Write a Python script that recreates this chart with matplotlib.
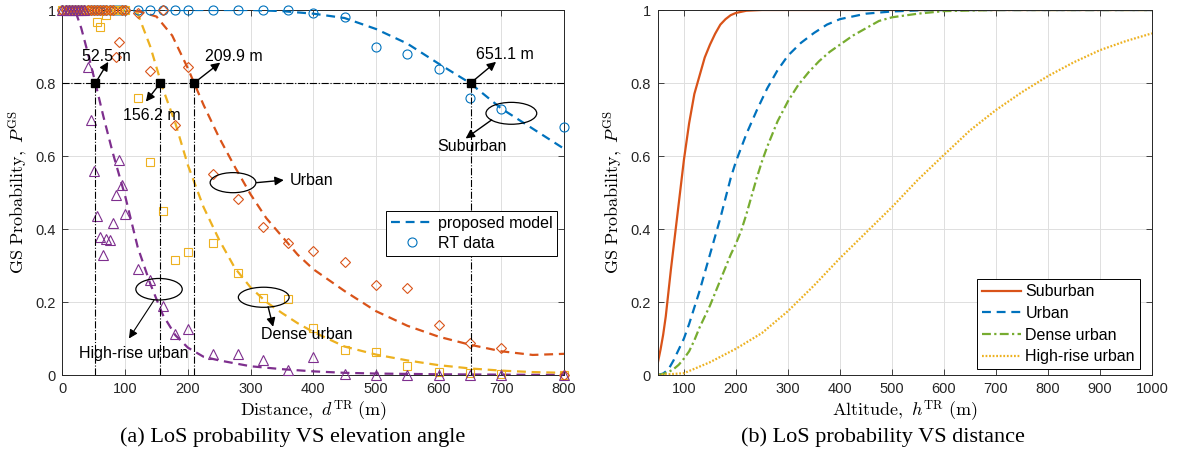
import matplotlib
matplotlib.use("Agg")
import matplotlib.pyplot as plt
from matplotlib.lines import Line2D
from matplotlib.patches import Ellipse
from matplotlib.ticker import FuncFormatter

plt.rcParams["font.family"] = ["Liberation Sans", "DejaVu Sans"]
plt.rcParams["mathtext.fontset"] = "cm"

C_BLUE = "#0072BD"
C_ORANGE = "#D95319"
C_YELLOW = "#EDB120"
C_PURPLE = "#7E2F8E"
C_GREEN = "#77AC30"

# ---------------- (a) GS probability vs distance ----------------
# proposed model curves
sub_model_d = [0, 100, 200, 300, 350, 400, 450, 500, 550, 600, 650, 700, 750, 800]
sub_model_p = [1, 1, 1, 1, 0.997, 0.99, 0.978, 0.948, 0.908, 0.853, 0.80, 0.73, 0.675, 0.62]

urb_model_d = [0, 50, 100, 125, 150, 175, 200, 225, 250, 275, 300, 325, 350, 375, 400,
               450, 500, 550, 600, 650, 700, 750, 800]
urb_model_p = [1, 1, 1.0, 0.995, 0.982, 0.93, 0.84, 0.74, 0.65, 0.57, 0.495, 0.43, 0.38, 0.33, 0.29,
               0.23, 0.175, 0.135, 0.105, 0.083, 0.065, 0.055, 0.058]

den_model_d = [0, 50, 100, 120, 140, 160, 180, 200, 225, 250, 275, 300, 325, 350, 375, 400,
               450, 500, 550, 600, 650, 700, 750, 800]
den_model_p = [1, 1, 1, 0.99, 0.9, 0.785, 0.69, 0.575, 0.46, 0.37, 0.293, 0.24, 0.2, 0.17, 0.142, 0.118,
               0.078, 0.056, 0.04, 0.027, 0.018, 0.012, 0.008, 0.006]

hri_model_d = [0, 10, 20, 30, 40, 52.5, 65, 80, 100, 120, 140, 160, 180, 200, 225, 250,
               300, 350, 400, 450, 500, 600, 700, 800]
hri_model_p = [1, 1, 1.0, 0.95, 0.885, 0.8, 0.71, 0.61, 0.49, 0.35, 0.25, 0.165, 0.109, 0.075, 0.05, 0.04,
               0.024, 0.016, 0.01, 0.006, 0.004, 0.002, 0.001, 0.0]

# ray-tracing data
rt_d = [0, 5, 10, 15, 20, 25, 30, 35, 40, 45, 50, 55, 60, 65, 70, 75, 80, 85, 90, 95, 100,
        120, 140, 160, 180, 200, 240, 280, 320, 360, 400, 450, 500, 550, 600, 650, 700, 800]
rt_sub = [1, 1, 1, 1, 1, 1, 1, 1, 1, 1, 1, 1, 1, 1, 1, 1, 1, 1, 1, 1, 1,
          1, 1, 1, 1, 1, 1, 1, 1, 1, 0.993, 0.98, 0.90, 0.879, 0.838, 0.758, 0.728, 0.68]
rt_urb = [1, 1, 1, 1, 1, 1, 1, 1, 1, 1, 1, 1, 1, 1, 1, 1, 1, 0.872, 0.913, 1, 1,
          0.993, 0.834, 1.0, 0.685, 0.845, 0.551, 0.482, 0.405, 0.362, 0.341, 0.31, 0.247, 0.239,
          0.137, 0.087, 0.073, 0.0]
rt_den = [1, 1, 1, 1, 1, 1, 1, 1, 1, 1, 1, 0.968, 0.954, 1, 0.986, 1, 1, 1, 1, 1, 1,
          0.758, 0.584, 0.449, 0.315, 0.336, 0.362, 0.279, 0.212, 0.207, 0.13, 0.068, 0.064, 0.025,
          0.008, 0.005, 0.003, 0.0]
rt_hri = [1, 1, 1, 1, 1, 1, 1, 1, 0.845, 0.70, 0.56, 0.436, 0.377, 0.329, 0.372, 0.37, 0.416,
          0.493, 0.589, 0.52, 0.44,
          0.29, 0.26, 0.189, 0.112, 0.125, 0.058, 0.058, 0.041, 0.014, 0.048, 0.002, 0, 0, 0, 0, 0, 0]

# distances where each model reaches 0.8
thr_prob = 0.8
thr_dist = [52.5, 156.2, 209.9, 651.1]
thr_labels = ["52.5 m", "156.2 m", "209.9 m", "651.1 m"]

# ---------------- (b) GS probability vs altitude ----------------
sub_alt = [50, 55, 60, 65, 70, 75, 80, 85, 90, 95, 100, 110, 120, 130, 140, 150, 160, 170, 180,
           190, 200, 220, 250, 300, 1000]
sub_p = [0.035, 0.07, 0.11, 0.16, 0.225, 0.29, 0.35, 0.41, 0.47, 0.53, 0.59, 0.69, 0.77, 0.82, 0.87,
         0.905, 0.935, 0.96, 0.975, 0.986, 0.992, 0.998, 1.0, 1.0, 1.0]

urb_alt = [50, 60, 70, 80, 90, 100, 110, 120, 130, 140, 150, 160, 170, 180, 190, 200, 220, 240, 260,
           280, 300, 325, 350, 375, 400, 450, 500, 550, 600, 1000]
urb_p = [0.0, 0.004, 0.015, 0.04, 0.07, 0.1, 0.14, 0.185, 0.23, 0.28, 0.33, 0.38, 0.43, 0.485, 0.54,
         0.585, 0.66, 0.725, 0.785, 0.835, 0.875, 0.91, 0.937, 0.96, 0.975, 0.99, 0.996, 0.999, 1.0, 1.0]

den_alt = [50, 60, 70, 80, 90, 100, 110, 120, 130, 140, 150, 160, 170, 180, 190, 200, 210, 220, 230,
           240, 250, 260, 270, 280, 300, 320, 340, 360, 380, 400, 425, 450, 475, 500, 550, 600, 700, 1000]
den_p = [0.0, 0.003, 0.008, 0.016, 0.028, 0.045, 0.065, 0.095, 0.13, 0.16, 0.19, 0.225, 0.26, 0.295,
         0.33, 0.36, 0.395, 0.44, 0.49, 0.54, 0.585, 0.625, 0.66, 0.695, 0.75, 0.795, 0.83, 0.86, 0.885,
         0.905, 0.93, 0.95, 0.97, 0.98, 0.99, 0.997, 1.0, 1.0]

hri_alt = [50, 100, 150, 200, 250, 300, 350, 400, 450, 500, 550, 600, 650, 700, 750, 800, 850,
           900, 950, 1000]
hri_p = [0.0, 0.005, 0.035, 0.072, 0.115, 0.175, 0.245, 0.32, 0.39, 0.46, 0.535, 0.603, 0.67, 0.726,
         0.775, 0.819, 0.857, 0.89, 0.915, 0.936]

scenarios = ["Suburban", "Urban", "Dense urban", "High-rise urban"]

TICK_FS = 10.5
TEXT_FS = 11.5
LABEL_FS = 13


def style_axes(ax):
    ax.grid(True, color="#dedede", linewidth=0.7)
    ax.set_axisbelow(True)
    ax.tick_params(direction="in", top=True, right=True, labelsize=TICK_FS,
                   length=4, width=0.6, colors="#262626", pad=5)
    for s in ax.spines.values():
        s.set_linewidth(0.7)
        s.set_color("#262626")
    fmt = FuncFormatter(lambda v, p: f"{v:g}")
    ax.xaxis.set_major_formatter(fmt)
    ax.yaxis.set_major_formatter(fmt)


fig = plt.figure(figsize=(11.77, 4.68), dpi=100)
ax1 = fig.add_axes([0.0531, 0.1987, 0.4261, 0.7799])
ax2 = fig.add_axes([0.5590, 0.1987, 0.4197, 0.7799])

# ---- panel (a) ----
dash = (4.0, 2.6)
# (model d, model p, RT values, colour, marker, size, marker z-order)
series = [
    (sub_model_d, sub_model_p, rt_sub, C_BLUE, "o", 6.5, 4.0),
    (urb_model_d, urb_model_p, rt_urb, C_ORANGE, "D", 5.5, 4.2),
    (den_model_d, den_model_p, rt_den, C_YELLOW, "s", 6.0, 4.1),
    (hri_model_d, hri_model_p, rt_hri, C_PURPLE, "^", 7.0, 4.3),
]
for md, mp, rt, col, mk, ms, z in series:
    ax1.plot(md, mp, color=col, lw=1.6, ls=(0, dash), zorder=3)
    ax1.plot(rt_d, rt, ls="none", marker=mk, ms=ms, mfc="none", mec=col, mew=0.8,
             zorder=z, clip_on=False)

ax1.plot([0, 800], [thr_prob, thr_prob], color="k", lw=0.8, ls="-.", zorder=5)
for xd in thr_dist:
    ax1.plot([xd, xd], [0, thr_prob], color="k", lw=0.8, ls="-.", zorder=5)
ax1.plot(thr_dist, [thr_prob] * len(thr_dist), ls="none", marker="s", ms=6,
         color="k", zorder=6)

arrow_kw = dict(arrowstyle="-|>", color="k", lw=1.0, mutation_scale=13,
                shrinkA=0, shrinkB=0)
thr_tips = [(73, 0.858), (133, 0.749), (251.6, 0.856), (691.6, 0.858)]
thr_text = [(70, 0.874), (143, 0.71), (274, 0.874), (705, 0.879)]
for xd, tip, tp, lab in zip(thr_dist, thr_tips, thr_text, thr_labels):
    ax1.annotate("", xy=tip, xytext=(xd, thr_prob), arrowprops=arrow_kw, zorder=7)
    ax1.text(tp[0], tp[1], lab, fontsize=TEXT_FS, ha="center", va="center", zorder=8)

# scenario callouts: ellipse, arrow, label
callouts = [
    ((716, 0.717), 81, 0.06, (684.6, 0.699), (643, 0.648), (653, 0.625), "center", scenarios[0]),
    ((272, 0.527), 73, 0.055, (309.5, 0.527), (353, 0.534), (363, 0.534), "left", scenarios[1]),
    ((321, 0.213), 81, 0.055, (328, 0.187), (336, 0.132), (390, 0.11), "center", scenarios[2]),
    ((154, 0.235), 74, 0.059, (146, 0.205), (106, 0.10), (114, 0.058), "center", scenarios[3]),
]
for i, (c, w, h, a0, a1, tp, ha, lab) in enumerate(callouts):
    ax1.add_patch(Ellipse(c, w, h, fill=False, ec="k", lw=0.9, zorder=7))
    kw = dict(arrow_kw)
    if i == 3:
        kw["lw"] = 0.8
    ax1.annotate("", xy=a1, xytext=a0, arrowprops=kw, zorder=7)
    ax1.text(tp[0], tp[1], lab, fontsize=TEXT_FS, ha=ha, va="center", zorder=8)

ax1.set_xlim(0, 800)
ax1.set_ylim(0, 1)
ax1.set_xticks([0, 100, 200, 300, 400, 500, 600, 700, 800])
ax1.set_yticks([0, 0.2, 0.4, 0.6, 0.8, 1])
style_axes(ax1)
ax1.set_xlabel(r"$\mathrm{Distance,}\ d^{\mathrm{TR}}\ \mathrm{(m)}$", fontsize=LABEL_FS, labelpad=2)
ax1.set_ylabel(r"$\mathrm{GS\ Probability,}\ P^{\mathrm{GS}}$", fontsize=LABEL_FS, labelpad=4)

leg_handles = [
    Line2D([], [], color=C_BLUE, lw=1.6, ls=(0, dash)),
    Line2D([], [], ls="none", marker="o", ms=6.5, mfc="none", mec=C_BLUE, mew=0.8),
]
leg1 = ax1.legend(leg_handles, ["proposed model", "RT data"], loc="upper right",
                  bbox_to_anchor=(0.986, 0.449), fontsize=TEXT_FS, frameon=True,
                  fancybox=False, edgecolor="k", framealpha=1, handlelength=2.6,
                  handletextpad=0.3, labelspacing=0.3, borderpad=0.3, borderaxespad=0)
leg1.get_frame().set_linewidth(0.7)
leg1.set_zorder(10)

# ---- panel (b) ----
ax2.plot(sub_alt, sub_p, color=C_ORANGE, lw=1.6, ls="-", label=scenarios[0])
ax2.plot(urb_alt, urb_p, color=C_BLUE, lw=1.6, ls=(0, (4.0, 2.6)), label=scenarios[1])
ax2.plot(den_alt, den_p, color=C_GREEN, lw=1.6, ls=(0, (4.0, 1.5, 1.0, 1.5)), label=scenarios[2])
ax2.plot(hri_alt, hri_p, color=C_YELLOW, lw=1.6, ls=(0, (0.8, 0.8)), label=scenarios[3])

ax2.set_xlim(50, 1000)
ax2.set_ylim(0, 1)
ax2.set_xticks([100, 200, 300, 400, 500, 600, 700, 800, 900, 1000])
ax2.set_yticks([0, 0.2, 0.4, 0.6, 0.8, 1])
style_axes(ax2)
ax2.set_xlabel(r"$\mathrm{Altitude,}\ h^{\mathrm{TR}}\ \mathrm{(m)}$", fontsize=LABEL_FS, labelpad=2)
ax2.set_ylabel(r"$\mathrm{GS\ Probability,}\ P^{\mathrm{GS}}$", fontsize=LABEL_FS, labelpad=4)
leg2 = ax2.legend(loc="lower right", bbox_to_anchor=(0.975, 0.016), fontsize=TEXT_FS,
                  frameon=True, fancybox=False, edgecolor="k", framealpha=1,
                  handlelength=2.45, handletextpad=0.25, labelspacing=0.42, borderpad=0.3,
                  borderaxespad=0)
leg2.get_frame().set_linewidth(0.7)

# sub-figure captions
fig.text(0.249, 0.066, "(a) LoS probability VS elevation angle", ha="center", va="center",
         fontsize=16, family=["Liberation Serif", "DejaVu Serif"])
fig.text(0.750, 0.066, "(b) LoS probability VS distance", ha="center", va="center",
         fontsize=16, family=["Liberation Serif", "DejaVu Serif"])

fig.savefig("out.png", dpi=100)
